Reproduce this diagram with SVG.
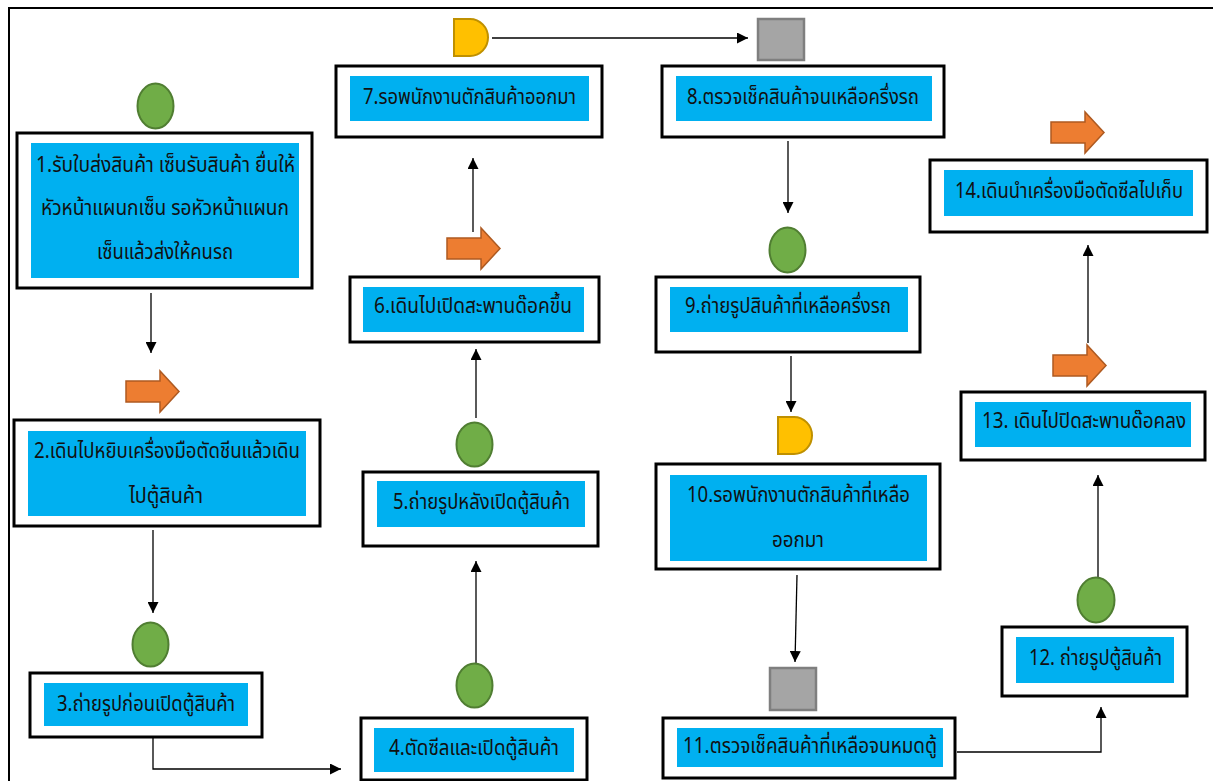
<svg xmlns="http://www.w3.org/2000/svg" width="1213" height="781" viewBox="0 0 1213 781">
<defs>
<style>
.frame{fill:none;stroke:#000;stroke-width:2}
.box{fill:#fff;stroke:#000;stroke-width:3}
.blue{fill:#00B0F0}
.t{font-family:"Noto Sans Thai","Tahoma","Leelawadee UI","Noto Sans","DejaVu Sans",sans-serif;font-size:21px;fill:#111;text-anchor:start}
.circ{fill:#70AD47;stroke:#507E32;stroke-width:2}
.org{fill:#ED7D31;stroke:#AE5A21;stroke-width:1.5}
.dly{fill:#FFC000;stroke:#BF9000;stroke-width:2}
.sq{fill:#A5A5A5;stroke:#7F7F7F;stroke-width:2.5}
.con{fill:none;stroke:#000;stroke-width:1.3;marker-end:url(#ah)}
</style>
<marker id="ah" viewBox="0 0 10 10" refX="10" refY="5" markerWidth="11" markerHeight="11" markerUnits="userSpaceOnUse" orient="auto">
<path d="M0,0 L10,5 L0,10 Z" fill="#000"/>
</marker>
<path id="oarrow" d="M0,10 H34 V0 L53,20.5 L34,41 V31 H0 Z"/>
<path id="delay" d="M0,0 H16 A18,18.5 0 0 1 16,37 H0 Z"/>
</defs>
<rect width="1213" height="781" fill="#fff"/>
<path class="frame" d="M9,781 V8 H1213"/>

<g id="connectors">
<path class="con" d="M492,38 H748"/>
<path class="con" d="M473,232 V158"/>
<path class="con" d="M788,141 V213"/>
<path class="con" d="M151,293 V353"/>
<path class="con" d="M476,418 V349"/>
<path class="con" d="M791,356 V412"/>
<path class="con" d="M1088,343 V245"/>
<path class="con" d="M153,530 V613"/>
<path class="con" d="M476,663 V561"/>
<path class="con" d="M797,575 L795,662"/>
<path class="con" d="M153,738 V769 H341"/>
<path class="con" d="M957,752 H1101 V707"/>
<path class="con" d="M1098,578 V475"/>
</g>

<g id="node1">
<ellipse class="circ" cx="155.5" cy="106" rx="18" ry="22.5"/>
<rect class="box" x="17" y="133" width="295" height="155"/>
<rect class="blue" x="31" y="143" width="268" height="135"/>
<text class="t" x="36" y="172" textLength="259" lengthAdjust="spacingAndGlyphs">1.รับใบส่งสินค้า เซ็นรับสินค้า ยื่นให้</text>
<text class="t" x="41" y="215" textLength="248" lengthAdjust="spacingAndGlyphs">หัวหน้าแผนกเซ็น รอหัวหน้าแผนก</text>
<text class="t" x="97" y="259" textLength="136" lengthAdjust="spacingAndGlyphs">เซ็นแล้วส่งให้คนรถ</text>
</g>

<g id="node2">
<use href="#oarrow" class="org" x="126" y="371"/>
<rect class="box" x="14" y="420" width="306" height="106"/>
<rect class="blue" x="28" y="431" width="278" height="85"/>
<text class="t" x="34" y="458" textLength="266" lengthAdjust="spacingAndGlyphs">2.เดินไปหยิบเครื่องมือตัดชีนแล้วเดิน</text>
<text class="t" x="129" y="503" textLength="74" lengthAdjust="spacingAndGlyphs">ไปตู้สินค้า</text>
</g>

<g id="node3">
<ellipse class="circ" cx="150.5" cy="644.5" rx="18" ry="22"/>
<rect class="box" x="30" y="673" width="232" height="64"/>
<rect class="blue" x="44" y="683" width="204" height="43"/>
<text class="t" x="57" y="711" textLength="178" lengthAdjust="spacingAndGlyphs">3.ถ่ายรูปก่อนเปิดตู้สินค้า</text>
</g>

<g id="node4">
<ellipse class="circ" cx="474.5" cy="685.5" rx="18" ry="22"/>
<rect class="box" x="361" y="718" width="226" height="62"/>
<rect class="blue" x="374" y="728" width="200" height="44"/>
<text class="t" x="389" y="755" textLength="170" lengthAdjust="spacingAndGlyphs">4.ตัดซีลและเปิดตู้สินค้า</text>
</g>

<g id="node5">
<ellipse class="circ" cx="474.5" cy="444.5" rx="18" ry="22"/>
<rect class="box" x="363" y="472" width="235" height="74"/>
<rect class="blue" x="377" y="481" width="208" height="46"/>
<text class="t" x="393" y="509" textLength="177" lengthAdjust="spacingAndGlyphs">5.ถ่ายรูปหลังเปิดตู้สินค้า</text>
</g>

<g id="node6">
<use href="#oarrow" class="org" x="447" y="228"/>
<rect class="box" x="350" y="277" width="249" height="65"/>
<rect class="blue" x="363" y="287" width="221" height="45"/>
<text class="t" x="374" y="313" textLength="198" lengthAdjust="spacingAndGlyphs">6.เดินไปเปิดสะพานด๊อคขึ้น</text>
</g>

<g id="node7">
<use href="#delay" class="dly" x="454" y="19"/>
<rect class="box" x="336" y="66" width="266" height="71"/>
<rect class="blue" x="350" y="76" width="239" height="45"/>
<text class="t" x="363" y="104" textLength="213" lengthAdjust="spacingAndGlyphs">7.รอพนักงานตักสินค้าออกมา</text>
</g>

<g id="node8">
<rect class="sq" x="758" y="19" width="46" height="41"/>
<rect class="box" x="662" y="66" width="282" height="71"/>
<rect class="blue" x="676" y="76" width="256" height="45"/>
<text class="t" x="687" y="104" textLength="232" lengthAdjust="spacingAndGlyphs">8.ตรวจเช็คสินค้าจนเหลือครึ่งรถ</text>
</g>

<g id="node9">
<ellipse class="circ" cx="787.5" cy="250" rx="18" ry="22.5"/>
<rect class="box" x="656" y="277" width="264" height="75"/>
<rect class="blue" x="670" y="287" width="238" height="45"/>
<text class="t" x="685" y="313" textLength="206" lengthAdjust="spacingAndGlyphs">9.ถ่ายรูปสินค้าที่เหลือครึ่งรถ</text>
</g>

<g id="node10">
<use href="#delay" class="dly" x="778" y="417"/>
<rect class="box" x="656" y="464" width="284" height="105"/>
<rect class="blue" x="670" y="475" width="257" height="86"/>
<text class="t" x="687" y="502" textLength="223" lengthAdjust="spacingAndGlyphs">10.รอพนักงานตักสินค้าที่เหลือ</text>
<text class="t" x="772" y="547" textLength="52" lengthAdjust="spacingAndGlyphs">ออกมา</text>
</g>

<g id="node11">
<rect class="sq" x="770" y="668" width="46" height="42"/>
<rect class="box" x="663" y="718" width="292" height="60"/>
<rect class="blue" x="677" y="728" width="266" height="39"/>
<text class="t" x="683" y="753" textLength="254" lengthAdjust="spacingAndGlyphs">11.ตรวจเช็คสินค้าที่เหลือจนหมดตู้</text>
</g>

<g id="node12">
<ellipse class="circ" cx="1096" cy="600" rx="18.5" ry="22.5"/>
<rect class="box" x="1002" y="627" width="185" height="69"/>
<rect class="blue" x="1016" y="637" width="158" height="46"/>
<text class="t" x="1029" y="665" textLength="133" lengthAdjust="spacingAndGlyphs">12. ถ่ายรูปตู้สินค้า</text>
</g>

<g id="node13">
<use href="#oarrow" class="org" x="1053" y="345"/>
<rect class="box" x="961" y="392" width="244" height="68"/>
<rect class="blue" x="975" y="402" width="216" height="45"/>
<text class="t" x="982" y="428" textLength="204" lengthAdjust="spacingAndGlyphs">13. เดินไปปิดสะพานด๊อคลง</text>
</g>

<g id="node14">
<use href="#oarrow" class="org" x="1051" y="112"/>
<rect class="box" x="930" y="160" width="277" height="72"/>
<rect class="blue" x="944" y="170" width="249" height="46"/>
<text class="t" x="955" y="198" textLength="228" lengthAdjust="spacingAndGlyphs">14.เดินนำเครื่องมือตัดซีลไปเก็บ</text>
</g>
</svg>
